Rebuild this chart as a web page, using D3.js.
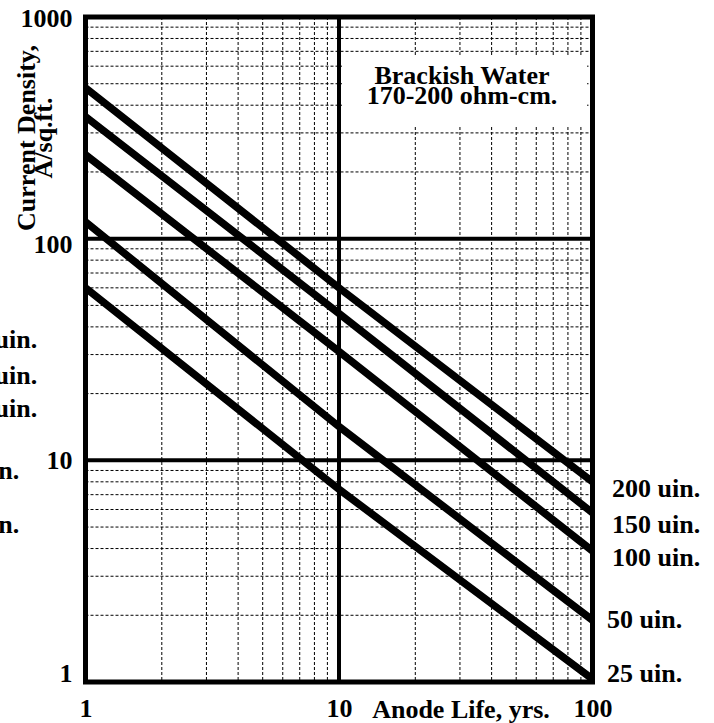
<!DOCTYPE html>
<html>
<head>
<meta charset="utf-8">
<script src="https://cdn.jsdelivr.net/npm/d3@7"></script>
<style>
    body { margin: 0; background: #fff; }
    text { font-family: "Liberation Serif", "Times New Roman", Times, serif; font-weight: bold; fill: #000; }
</style>
</head>
<body>
<svg id="chart"></svg>
<script>
'use strict';

// values (anode life in years vs current density in A/sq.ft.)
const years = [1, 10, 100];
const coatings = ["200 uin.", "150 uin.", "100 uin.", "50 uin.", "25 uin."];
const density200 = [479, 60, 8.0];
const density150 = [355, 46, 5.8];
const density100 = [239, 31, 3.9];
const density50 = [119, 14.2, 1.9];
const density25 = [60, 7.4, 1.03];

const xTicks = [1, 10, 100];
const yTicks = [1, 10, 100, 1000];
const xTitle = "Anode Life, yrs.";
const yTitle = ["Current Density,", "A/sq.ft."];
const note = ["Brackish Water", "170-200 ohm-cm."];

let series = [density200, density150, density100, density50, density25]
    .map((values, i) => ({ name: coatings[i], values: values }));

function getChartConfig() {
    let width = 714, height = 723;
    let plot = { left: 85.5, right: 592.5, top: 17, bottom: 682 };

    let svg = d3.select("#chart")
        .attr("width", width)
        .attr("height", height);

    svg.append("rect")
        .attr("width", width)
        .attr("height", height)
        .attr("fill", "#fff");

    return { width, height, plot, svg };
}

function getScales(config) {
    let { plot } = config;
    let xScale = d3.scaleLog()
        .domain([1, 100])
        .range([plot.left, plot.right]);
    let yScale = d3.scaleLog()
        .domain([1, 1000])
        .range([plot.bottom, plot.top]);
    return { xScale, yScale };
}

function isDecade(v) {
    return Math.abs(Math.log10(v) - Math.round(Math.log10(v))) < 1e-9;
}

function drawGrid(config, scales) {
    let { svg, plot } = config;
    let { xScale, yScale } = scales;

    let minor = svg.append("g")
        .attr("stroke", "#000")
        .attr("stroke-width", 1)
        .attr("stroke-dasharray", "3,2");

    minor.selectAll(".vminor")
        .data(xScale.ticks().filter(d => !isDecade(d)))
        .enter().append("line")
        .attr("x1", d => xScale(d)).attr("x2", d => xScale(d))
        .attr("y1", plot.top).attr("y2", plot.bottom);

    minor.selectAll(".hminor")
        .data(yScale.ticks().filter(d => !isDecade(d)))
        .enter().append("line")
        .attr("x1", plot.left).attr("x2", plot.right)
        .attr("y1", d => yScale(d)).attr("y2", d => yScale(d));

    // white patch behind the note
    svg.append("rect")
        .attr("x", 342).attr("y", 57)
        .attr("width", 245).attr("height", 69)
        .attr("fill", "#fff");

    let major = svg.append("g")
        .attr("stroke", "#000")
        .attr("stroke-width", 4);

    major.selectAll(".vmajor")
        .data(xTicks.slice(1, -1))
        .enter().append("line")
        .attr("x1", d => xScale(d)).attr("x2", d => xScale(d))
        .attr("y1", plot.top).attr("y2", plot.bottom);

    major.selectAll(".hmajor")
        .data(yTicks.slice(1, -1))
        .enter().append("line")
        .attr("x1", plot.left).attr("x2", plot.right)
        .attr("y1", d => yScale(d)).attr("y2", d => yScale(d));
}

function drawLines(config, scales) {
    let { svg, plot } = config;
    let { xScale, yScale } = scales;

    svg.append("clipPath")
        .attr("id", "plotClip")
        .append("rect")
        .attr("x", plot.left).attr("y", plot.top)
        .attr("width", plot.right - plot.left)
        .attr("height", plot.bottom - plot.top);

    let line = d3.line()
        .x((d, i) => xScale(years[i]))
        .y(d => yScale(d));

    svg.append("g")
        .attr("clip-path", "url(#plotClip)")
        .selectAll("path")
        .data(series)
        .enter().append("path")
        .attr("d", d => line(d.values))
        .attr("fill", "none")
        .attr("stroke", "#000")
        .attr("stroke-width", 7.5);

    svg.append("rect")
        .attr("x", plot.left).attr("y", plot.top)
        .attr("width", plot.right - plot.left)
        .attr("height", plot.bottom - plot.top)
        .attr("fill", "none")
        .attr("stroke", "#000")
        .attr("stroke-width", 5);
}

function drawAxis(config, scales) {
    let { svg, plot } = config;
    let { xScale, yScale } = scales;
    let nudge = { 1: -9, 10: 0, 100: 6, 1000: 1 };

    let yAxis = svg.append("g")
        .attr("transform", "translate(" + plot.left + ",0)")
        .call(d3.axisLeft(yScale).tickValues(yTicks).tickFormat(d3.format("d")).tickSize(0).tickPadding(13))
        .style("font-size", "26px");
    yAxis.select(".domain").remove();
    yAxis.selectAll(".tick text")
        .attr("transform", d => "translate(0," + nudge[d] + ")");

    let xAxis = svg.append("g")
        .attr("transform", "translate(0," + plot.bottom + ")")
        .call(d3.axisBottom(xScale).tickValues(xTicks).tickFormat(d3.format("d")).tickSize(0).tickPadding(17))
        .style("font-size", "26px");
    xAxis.select(".domain").remove();

    svg.append("text")
        .attr("x", 461).attr("y", 718)
        .attr("text-anchor", "middle")
        .style("font-size", "26px")
        .text(xTitle);

    let yt = svg.append("g")
        .attr("transform", "translate(0,138) rotate(-90)");
    yt.selectAll("text")
        .data(yTitle)
        .enter().append("text")
        .attr("x", 0)
        .attr("y", (d, i) => 35 + i * 17)
        .attr("text-anchor", "middle")
        .style("font-size", "26px")
        .text(d => d);

    svg.selectAll(".note")
        .data(note)
        .enter().append("text")
        .attr("x", 462)
        .attr("y", (d, i) => 84 + i * 20)
        .attr("text-anchor", "middle")
        .style("font-size", "26px")
        .text(d => d);
}

function drawLabels(config) {
    let { svg } = config;
    // hand placed label spots next to the line ends
    let spots = [[612, 497], [612, 533], [612, 566], [607, 628], [607, 682]];

    // second copy is the neighbouring panel's labels, cut off at the left edge
    [[0, 0], [-663, -149]].forEach(shift => {
        svg.append("g")
            .attr("transform", "translate(" + shift + ")")
            .selectAll("text")
            .data(series)
            .enter().append("text")
            .attr("x", (d, i) => spots[i][0])
            .attr("y", (d, i) => spots[i][1])
            .style("font-size", "26px")
            .text(d => d.name);
    });
}

function drawChart() {
    let config = getChartConfig();
    let scales = getScales(config);
    drawGrid(config, scales);
    drawLines(config, scales);
    drawAxis(config, scales);
    drawLabels(config);
}

drawChart();
</script>
</body>
</html>
